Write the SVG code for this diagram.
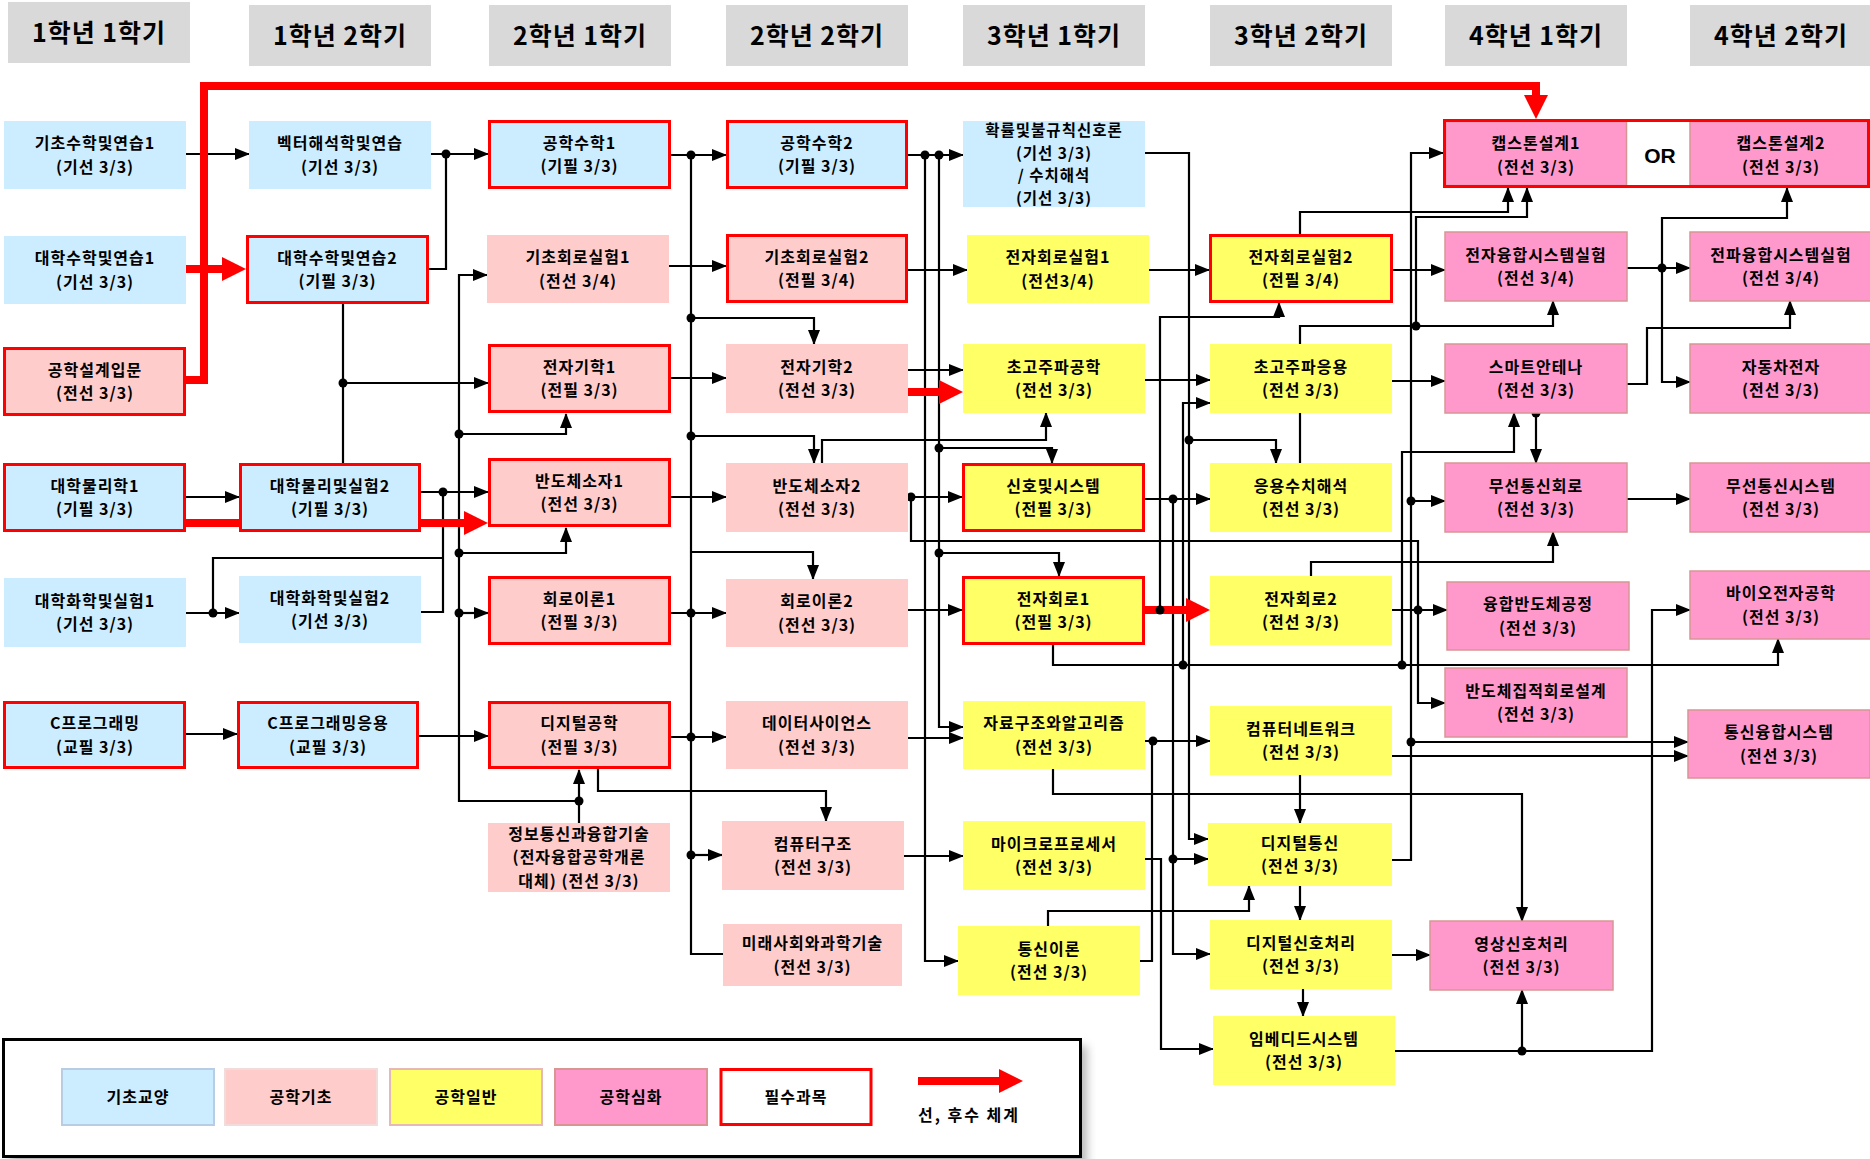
<svg xmlns="http://www.w3.org/2000/svg" width="1870" height="1159" viewBox="0 0 1870 1159">
<style>
.t{font-family:"Noto Sans CJK KR","Noto Sans",sans-serif;font-weight:bold;font-size:16px;letter-spacing:1px;text-anchor:middle;fill:#000}
.h{font-size:25px;letter-spacing:1px}
.s{font-size:15.5px}
.or{font-family:"Liberation Sans",Arial,sans-serif;font-weight:bold;font-size:21px;text-anchor:middle}
.hd{fill:#d9d9d9}
.b{fill:#ccecff}
.p{fill:#ffcccc}
.y{fill:#ffff66}
.m{fill:#ff99cc;stroke:#d99594;stroke-width:1.5}
.rb{stroke:#ff0000;stroke-width:3}
.c{fill:none;stroke:#000;stroke-width:2.2}
.a{marker-end:url(#ar)}
.r{fill:none;stroke:#ff0000;stroke-width:8;marker-end:url(#ra)}
.d{fill:#000}
</style>
<defs>
<marker id="ar" markerUnits="userSpaceOnUse" markerWidth="15" markerHeight="12" viewBox="0 0 15 12" refX="14" refY="6" orient="auto"><path d="M0,0 L15,6 L0,12 z" fill="#000"/></marker>
<marker id="ra" markerUnits="userSpaceOnUse" markerWidth="24" markerHeight="24" viewBox="0 0 24 24" refX="1" refY="12" orient="auto"><path d="M0,0 L24,12 L0,24 z" fill="#ff0000"/></marker>
<filter id="sh" x="-5%" y="-20%" width="115%" height="150%"><feGaussianBlur stdDeviation="5"/></filter>
</defs>
<rect width="1870" height="1159" fill="#fff"/>

<g id="headers">
<rect class="hd" x="8" y="2" width="182" height="61"/><text class="t h" x="99" y="42">1학년 1학기</text>
<rect class="hd" x="249" y="5" width="182" height="61"/><text class="t h" x="340" y="45">1학년 2학기</text>
<rect class="hd" x="489" y="5" width="182" height="61"/><text class="t h" x="580" y="45">2학년 1학기</text>
<rect class="hd" x="726" y="5" width="182" height="61"/><text class="t h" x="817" y="45">2학년 2학기</text>
<rect class="hd" x="963" y="5" width="182" height="61"/><text class="t h" x="1054" y="45">3학년 1학기</text>
<rect class="hd" x="1210" y="5" width="182" height="61"/><text class="t h" x="1301" y="45">3학년 2학기</text>
<rect class="hd" x="1445" y="5" width="182" height="61"/><text class="t h" x="1536" y="45">4학년 1학기</text>
<rect class="hd" x="1690" y="5" width="182" height="61"/><text class="t h" x="1781" y="45">4학년 2학기</text>
</g>

<g id="connectors">
<path class="c a" d="M186,154 H249"/>
<path class="c a" d="M186,497 H239"/>
<path class="c a" d="M186,613 H239"/>
<path class="c a" d="M186,734 H237"/>
<path class="c" d="M213,613 V558 H443"/>
<path class="c a" d="M431,154 H488"/>
<path class="c" d="M429,269 H446 V154"/>
<path class="c" d="M343,304 V463"/>
<path class="c a" d="M343,383 H488"/>
<path class="c a" d="M421,492 H488"/>
<path class="c" d="M421,612 H443 V492"/>
<path class="c a" d="M419,736 H488"/>
<path class="c a" d="M579,823 V770"/>
<path class="c a" d="M579,801 H459 V275 H487"/>
<path class="c a" d="M459,434 H566 V414"/>
<path class="c a" d="M459,553 H566 V528"/>
<path class="c a" d="M459,613 H488"/>
<path class="c a" d="M671,155 H726"/>
<path class="c" d="M691,155 V954 H723"/>
<path class="c a" d="M691,318 H814 V344"/>
<path class="c a" d="M691,436 H814 V463"/>
<path class="c a" d="M691,552 H813 V579"/>
<path class="c a" d="M671,613 H726"/>
<path class="c a" d="M671,737 H726"/>
<path class="c a" d="M691,855 H722"/>
<path class="c a" d="M669,266 H726"/>
<path class="c a" d="M671,378 H726"/>
<path class="c a" d="M671,497 H726"/>
<path class="c a" d="M598,769 V791 H826 V821"/>
<path class="c a" d="M908,155 H963"/>
<path class="c a" d="M925,155 V961 H958"/>
<path class="c a" d="M939,155 V727 H963"/>
<path class="c a" d="M939,448 H1052 V463"/>
<path class="c a" d="M939,553 H1059 V576"/>
<path class="c a" d="M908,270 H967"/>
<path class="c a" d="M908,370 H963"/>
<path class="c a" d="M908,497 H962"/>
<path class="c a" d="M911,497 V541 H1418 V703 H1445"/>
<path class="c a" d="M822,463 V440 H1046 V413"/>
<path class="c a" d="M908,610 H962"/>
<path class="c a" d="M908,738 H963"/>
<path class="c a" d="M904,856 H963"/>
<path class="c a" d="M1145,153 H1189 V839 H1208"/>
<path class="c a" d="M1189,440 H1276 V463"/>
<path class="c a" d="M1149,270 H1209"/>
<path class="c a" d="M1145,380 H1210"/>
<path class="c a" d="M1145,499 H1210"/>
<path class="c a" d="M1173,499 V954 H1210"/>
<path class="c a" d="M1173,859 H1208"/>
<path class="c a" d="M1160,610 V317 H1279 V303"/>
<path class="c a" d="M1053,645 V665 H1778 V639"/>
<path class="c a" d="M1183,665 V403 H1210"/>
<path class="c a" d="M1402,665 V452 H1514 V413"/>
<path class="c a" d="M1145,741 H1210"/>
<path class="c" d="M1140,961 H1152 V741"/>
<path class="c a" d="M1145,859 H1161 V1049 H1213"/>
<path class="c a" d="M1048,926 V911 H1249 V886"/>
<path class="c a" d="M1053,769 V794 H1522 V921"/>
<path class="c a" d="M1300,775 V823"/>
<path class="c a" d="M1300,886 V920"/>
<path class="c a" d="M1303,989 V1016"/>
<path class="c a" d="M1393,270 H1445"/>
<path class="c a" d="M1300,234 V212 H1508 V188"/>
<path class="c a" d="M1300,344 V326 H1553 V301"/>
<path class="c a" d="M1416,326 V217 H1527 V188"/>
<path class="c" d="M1300,463 V413"/>
<path class="c a" d="M1392,381 H1445"/>
<path class="c a" d="M1392,860 H1411 V153 H1443"/>
<path class="c a" d="M1411,501 H1445"/>
<path class="c a" d="M1411,742 H1688"/>
<path class="c a" d="M1392,756 H1688"/>
<path class="c a" d="M1311,576 V562 H1553 V532"/>
<path class="c a" d="M1392,610 H1447"/>
<path class="c a" d="M1395,1051 H1652 V610 H1690"/>
<path class="c a" d="M1522,1051 V990"/>
<path class="c a" d="M1392,955 H1430"/>
<path class="c a" d="M1536,413 V463"/>
<path class="c a" d="M1627,499 H1690"/>
<path class="c a" d="M1627,268 H1690"/>
<path class="c a" d="M1662,268 V218 H1787 V188"/>
<path class="c a" d="M1662,268 V382 H1690"/>
<path class="c a" d="M1627,384 H1647 V328 H1790 V301"/>
<path class="r" d="M186,380 H204 V86 H1536 V96"/>
<path class="r" d="M186,269 H223"/>
<path class="r" d="M186,523 H465"/>
<path class="r" d="M908,392 H940"/>
<path class="r" d="M1145,610 H1187"/>
<g class="d">
<circle cx="213" cy="613" r="4.5"/><circle cx="446" cy="154" r="4.5"/><circle cx="343" cy="383" r="4.5"/><circle cx="443" cy="492" r="4.5"/>
<circle cx="579" cy="801" r="4.5"/><circle cx="459" cy="434" r="4.5"/><circle cx="459" cy="553" r="4.5"/><circle cx="459" cy="613" r="4.5"/>
<circle cx="691" cy="155" r="4.5"/><circle cx="691" cy="318" r="4.5"/><circle cx="691" cy="436" r="4.5"/><circle cx="691" cy="613" r="4.5"/><circle cx="691" cy="737" r="4.5"/><circle cx="691" cy="855" r="4.5"/>
<circle cx="925" cy="155" r="4.5"/><circle cx="939" cy="155" r="4.5"/><circle cx="939" cy="448" r="4.5"/><circle cx="939" cy="553" r="4.5"/><circle cx="911" cy="497" r="4.5"/>
<circle cx="1418" cy="610" r="4.5"/><circle cx="1189" cy="440" r="4.5"/><circle cx="1173" cy="499" r="4.5"/><circle cx="1173" cy="859" r="4.5"/><circle cx="1160" cy="610" r="4.5"/>
<circle cx="1183" cy="665" r="4.5"/><circle cx="1402" cy="665" r="4.5"/><circle cx="1153" cy="741" r="4.5"/><circle cx="1416" cy="326" r="4.5"/>
<circle cx="1411" cy="501" r="4.5"/><circle cx="1411" cy="742" r="4.5"/><circle cx="1522" cy="1051" r="4.5"/><circle cx="1536" cy="413" r="4.5"/><circle cx="1662" cy="268" r="4.5"/>
</g>
</g>

<g id="n_math1"><rect class="b" x="4" y="121" width="182" height="68"/><text class="t"><tspan x="95" y="149.3">기초수학및연습1</tspan><tspan x="95" y="172.7">(기선 3/3)</tspan></text></g>
<g id="n_cmath1"><rect class="b" x="4" y="236" width="182" height="68"/><text class="t"><tspan x="95" y="264.3">대학수학및연습1</tspan><tspan x="95" y="287.7">(기선 3/3)</tspan></text></g>
<g id="n_design"><rect class="p rb" x="4.5" y="348.5" width="180" height="66"/><text class="t"><tspan x="95" y="375.8">공학설계입문</tspan><tspan x="95" y="399.2">(전선 3/3)</tspan></text></g>
<g id="n_phys1"><rect class="b rb" x="4.5" y="464.5" width="180" height="66"/><text class="t"><tspan x="95" y="491.8">대학물리학1</tspan><tspan x="95" y="515.2">(기필 3/3)</tspan></text></g>
<g id="n_chem1"><rect class="b" x="4" y="578" width="182" height="69"/><text class="t"><tspan x="95" y="606.8">대학화학및실험1</tspan><tspan x="95" y="630.2">(기선 3/3)</tspan></text></g>
<g id="n_c"><rect class="b rb" x="4.5" y="702.5" width="180" height="65"/><text class="t"><tspan x="95" y="729.3">C프로그래밍</tspan><tspan x="95" y="752.7">(교필 3/3)</tspan></text></g>

<g id="n_vec"><rect class="b" x="249" y="121" width="182" height="68"/><text class="t"><tspan x="340" y="149.3">벡터해석학및연습</tspan><tspan x="340" y="172.7">(기선 3/3)</tspan></text></g>
<g id="n_cmath2"><rect class="b rb" x="247.5" y="236.5" width="180" height="66"/><text class="t"><tspan x="337.5" y="263.8">대학수학및연습2</tspan><tspan x="337.5" y="287.2">(기필 3/3)</tspan></text></g>
<g id="n_phys2"><rect class="b rb" x="240.5" y="464.5" width="179" height="66"/><text class="t"><tspan x="330" y="491.8">대학물리및실험2</tspan><tspan x="330" y="515.2">(기필 3/3)</tspan></text></g>
<g id="n_chem2"><rect class="b" x="239" y="576" width="182" height="67"/><text class="t"><tspan x="330" y="603.8">대학화학및실험2</tspan><tspan x="330" y="627.2">(기선 3/3)</tspan></text></g>
<g id="n_capp"><rect class="b rb" x="238.5" y="702.5" width="179" height="65"/><text class="t"><tspan x="328" y="729.3">C프로그래밍응용</tspan><tspan x="328" y="752.7">(교필 3/3)</tspan></text></g>

<g id="n_emath1"><rect class="b rb" x="489.5" y="121.5" width="180" height="66"/><text class="t"><tspan x="579.5" y="148.8">공학수학1</tspan><tspan x="579.5" y="172.2">(기필 3/3)</tspan></text></g>
<g id="n_clab1"><rect class="p" x="487" y="235" width="182" height="68"/><text class="t"><tspan x="578" y="263.3">기초회로실험1</tspan><tspan x="578" y="286.7">(전선 3/4)</tspan></text></g>
<g id="n_em1"><rect class="p rb" x="489.5" y="345.5" width="180" height="66"/><text class="t"><tspan x="579.5" y="372.8">전자기학1</tspan><tspan x="579.5" y="396.2">(전필 3/3)</tspan></text></g>
<g id="n_semi1"><rect class="p rb" x="489.5" y="459.5" width="180" height="66"/><text class="t"><tspan x="579.5" y="486.8">반도체소자1</tspan><tspan x="579.5" y="510.2">(전선 3/3)</tspan></text></g>
<g id="n_ct1"><rect class="p rb" x="489.5" y="577.5" width="180" height="66"/><text class="t"><tspan x="579.5" y="604.8">회로이론1</tspan><tspan x="579.5" y="628.2">(전필 3/3)</tspan></text></g>
<g id="n_dig"><rect class="p rb" x="489.5" y="702.5" width="180" height="65"/><text class="t"><tspan x="579.5" y="729.3">디지털공학</tspan><tspan x="579.5" y="752.7">(전필 3/3)</tspan></text></g>
<g id="n_ict"><rect class="p" x="488" y="823" width="182" height="69"/><text class="t"><tspan x="579" y="840">정보통신과융합기술</tspan><tspan x="579" y="863.4">(전자융합공학개론</tspan><tspan x="579" y="886.8">대체) (전선 3/3)</tspan></text></g>

<g id="n_emath2"><rect class="b rb" x="727.5" y="121.5" width="179" height="66"/><text class="t"><tspan x="817" y="148.8">공학수학2</tspan><tspan x="817" y="172.2">(기필 3/3)</tspan></text></g>
<g id="n_clab2"><rect class="p rb" x="727.5" y="235.5" width="179" height="66"/><text class="t"><tspan x="817" y="262.8">기초회로실험2</tspan><tspan x="817" y="286.2">(전필 3/4)</tspan></text></g>
<g id="n_em2"><rect class="p" x="726" y="344" width="182" height="69"/><text class="t"><tspan x="817" y="372.8">전자기학2</tspan><tspan x="817" y="396.2">(전선 3/3)</tspan></text></g>
<g id="n_semi2"><rect class="p" x="726" y="463" width="182" height="69"/><text class="t"><tspan x="817" y="491.8">반도체소자2</tspan><tspan x="817" y="515.2">(전선 3/3)</tspan></text></g>
<g id="n_ct2"><rect class="p" x="726" y="579" width="182" height="68"/><text class="t"><tspan x="817" y="607.3">회로이론2</tspan><tspan x="817" y="630.7">(전선 3/3)</tspan></text></g>
<g id="n_ds"><rect class="p" x="726" y="701" width="182" height="68"/><text class="t"><tspan x="817" y="729.3">데이터사이언스</tspan><tspan x="817" y="752.7">(전선 3/3)</tspan></text></g>
<g id="n_arch"><rect class="p" x="722" y="821" width="182" height="69"/><text class="t"><tspan x="813" y="849.8">컴퓨터구조</tspan><tspan x="813" y="873.2">(전선 3/3)</tspan></text></g>
<g id="n_future"><rect class="p" x="723" y="924" width="179" height="62"/><text class="t"><tspan x="812.5" y="949.3">미래사회와과학기술</tspan><tspan x="812.5" y="972.7">(전선 3/3)</tspan></text></g>

<g id="n_prob"><rect class="b" x="963" y="121" width="182" height="86"/><text class="t s"><tspan x="1054" y="136">확률및불규칙신호론</tspan><tspan x="1054" y="158.5">(기선 3/3)</tspan><tspan x="1054" y="181">/ 수치해석</tspan><tspan x="1054" y="203.5">(기선 3/3)</tspan></text></g>
<g id="n_elab1"><rect class="y" x="967" y="235" width="182" height="68"/><text class="t"><tspan x="1058" y="263.3">전자회로실험1</tspan><tspan x="1058" y="286.7">(전선3/4)</tspan></text></g>
<g id="n_mw"><rect class="y" x="963" y="344" width="182" height="69"/><text class="t"><tspan x="1054" y="372.8">초고주파공학</tspan><tspan x="1054" y="396.2">(전선 3/3)</tspan></text></g>
<g id="n_ss"><rect class="y rb" x="963.5" y="464.5" width="180" height="66"/><text class="t"><tspan x="1053.5" y="491.8">신호및시스템</tspan><tspan x="1053.5" y="515.2">(전필 3/3)</tspan></text></g>
<g id="n_ec1"><rect class="y rb" x="963.5" y="577.5" width="180" height="66"/><text class="t"><tspan x="1053.5" y="604.8">전자회로1</tspan><tspan x="1053.5" y="628.2">(전필 3/3)</tspan></text></g>
<g id="n_algo"><rect class="y" x="963" y="701" width="182" height="68"/><text class="t"><tspan x="1054" y="729.3">자료구조와알고리즘</tspan><tspan x="1054" y="752.7">(전선 3/3)</tspan></text></g>
<g id="n_mp"><rect class="y" x="963" y="821" width="182" height="69"/><text class="t"><tspan x="1054" y="849.8">마이크로프로세서</tspan><tspan x="1054" y="873.2">(전선 3/3)</tspan></text></g>
<g id="n_comm"><rect class="y" x="958" y="926" width="182" height="69"/><text class="t"><tspan x="1049" y="954.8">통신이론</tspan><tspan x="1049" y="978.2">(전선 3/3)</tspan></text></g>

<g id="n_elab2"><rect class="y rb" x="1210.5" y="235.5" width="181" height="66"/><text class="t"><tspan x="1301" y="262.8">전자회로실험2</tspan><tspan x="1301" y="286.2">(전필 3/4)</tspan></text></g>
<g id="n_mwapp"><rect class="y" x="1210" y="344" width="182" height="69"/><text class="t"><tspan x="1301" y="372.8">초고주파응용</tspan><tspan x="1301" y="396.2">(전선 3/3)</tspan></text></g>
<g id="n_num"><rect class="y" x="1210" y="463" width="182" height="69"/><text class="t"><tspan x="1301" y="491.8">응용수치해석</tspan><tspan x="1301" y="515.2">(전선 3/3)</tspan></text></g>
<g id="n_ec2"><rect class="y" x="1210" y="576" width="182" height="69"/><text class="t"><tspan x="1301" y="604.8">전자회로2</tspan><tspan x="1301" y="628.2">(전선 3/3)</tspan></text></g>
<g id="n_net"><rect class="y" x="1210" y="706" width="182" height="69"/><text class="t"><tspan x="1301" y="734.8">컴퓨터네트워크</tspan><tspan x="1301" y="758.2">(전선 3/3)</tspan></text></g>
<g id="n_dcomm"><rect class="y" x="1208" y="823" width="184" height="63"/><text class="t"><tspan x="1300" y="848.8">디지털통신</tspan><tspan x="1300" y="872.2">(전선 3/3)</tspan></text></g>
<g id="n_dsp"><rect class="y" x="1210" y="920" width="182" height="69"/><text class="t"><tspan x="1301" y="948.8">디지털신호처리</tspan><tspan x="1301" y="972.2">(전선 3/3)</tspan></text></g>
<g id="n_emb"><rect class="y" x="1213" y="1016" width="182" height="69"/><text class="t"><tspan x="1304" y="1044.8">임베디드시스템</tspan><tspan x="1304" y="1068.2">(전선 3/3)</tspan></text></g>

<g id="n_capstone">
<rect x="1444.5" y="120.5" width="424" height="66" fill="#fff"/>
<rect class="m" x="1445.5" y="121.5" width="181" height="64"/>
<rect class="m" x="1690" y="121.5" width="178" height="64"/>
<rect x="1444.5" y="120.5" width="424" height="66" fill="none" stroke="#ff0000" stroke-width="3"/>
<text class="t"><tspan x="1536" y="149.3">캡스톤설계1</tspan><tspan x="1536" y="172.7">(전선 3/3)</tspan></text>
<text class="or" x="1660" y="163">OR</text>
<text class="t"><tspan x="1781" y="149.3">캡스톤설계2</tspan><tspan x="1781" y="172.7">(전선 3/3)</tspan></text>
</g>
<g id="n_eslab"><rect class="m" x="1445" y="232" width="182" height="69"/><text class="t"><tspan x="1536" y="260.8">전자융합시스템실험</tspan><tspan x="1536" y="284.2">(전선 3/4)</tspan></text></g>
<g id="n_ant"><rect class="m" x="1445" y="344" width="182" height="69"/><text class="t"><tspan x="1536" y="372.8">스마트안테나</tspan><tspan x="1536" y="396.2">(전선 3/3)</tspan></text></g>
<g id="n_wcc"><rect class="m" x="1445" y="463" width="182" height="69"/><text class="t"><tspan x="1536" y="491.8">무선통신회로</tspan><tspan x="1536" y="515.2">(전선 3/3)</tspan></text></g>
<g id="n_fab"><rect class="m" x="1447" y="582" width="182" height="68"/><text class="t"><tspan x="1538" y="610.3">융합반도체공정</tspan><tspan x="1538" y="633.7">(전선 3/3)</tspan></text></g>
<g id="n_ic"><rect class="m" x="1445" y="668" width="182" height="69"/><text class="t"><tspan x="1536" y="696.8">반도체집적회로설계</tspan><tspan x="1536" y="720.2">(전선 3/3)</tspan></text></g>
<g id="n_img"><rect class="m" x="1430" y="921" width="183" height="69"/><text class="t"><tspan x="1521.5" y="949.8">영상신호처리</tspan><tspan x="1521.5" y="973.2">(전선 3/3)</tspan></text></g>

<g id="n_rflab"><rect class="m" x="1690" y="232" width="182" height="69"/><text class="t"><tspan x="1781" y="260.8">전파융합시스템실험</tspan><tspan x="1781" y="284.2">(전선 3/4)</tspan></text></g>
<g id="n_auto"><rect class="m" x="1690" y="344" width="182" height="69"/><text class="t"><tspan x="1781" y="372.8">자동차전자</tspan><tspan x="1781" y="396.2">(전선 3/3)</tspan></text></g>
<g id="n_wcs"><rect class="m" x="1690" y="463" width="182" height="69"/><text class="t"><tspan x="1781" y="491.8">무선통신시스템</tspan><tspan x="1781" y="515.2">(전선 3/3)</tspan></text></g>
<g id="n_bio"><rect class="m" x="1690" y="571" width="182" height="68"/><text class="t"><tspan x="1781" y="599.3">바이오전자공학</tspan><tspan x="1781" y="622.7">(전선 3/3)</tspan></text></g>
<g id="n_cs"><rect class="m" x="1688" y="710" width="182" height="68"/><text class="t"><tspan x="1779" y="738.3">통신융합시스템</tspan><tspan x="1779" y="761.7">(전선 3/3)</tspan></text></g>

<g id="legend">
<rect x="10" y="1046" width="1077" height="125" fill="#888" opacity="0.6" filter="url(#sh)"/>
<rect x="3.5" y="1039.5" width="1077" height="117" fill="#fff" stroke="#000" stroke-width="3"/>
<rect x="62" y="1069" width="152" height="56" fill="#ccecff" stroke="#b8cce4" stroke-width="2"/><text class="t" x="138" y="1103">기초교양</text>
<rect x="225" y="1069" width="152" height="56" fill="#ffcccc" stroke="#f2dcdb" stroke-width="2"/><text class="t" x="301" y="1103">공학기초</text>
<rect x="390" y="1069" width="152" height="56" fill="#ffff66" stroke="#e6b9b8" stroke-width="2"/><text class="t" x="466" y="1103">공학일반</text>
<rect x="555" y="1069" width="152" height="56" fill="#ff99cc" stroke="#d99594" stroke-width="2"/><text class="t" x="631" y="1103">공학심화</text>
<rect x="721" y="1069.5" width="150" height="55" fill="#fff" stroke="#ff0000" stroke-width="3"/><text class="t" x="796" y="1103">필수과목</text>
<path class="r" d="M918,1081 H1000" stroke-width="7"/>
<text class="t" x="969" y="1121" style="letter-spacing:2px">선, 후수 체계</text>
</g>
</svg>
